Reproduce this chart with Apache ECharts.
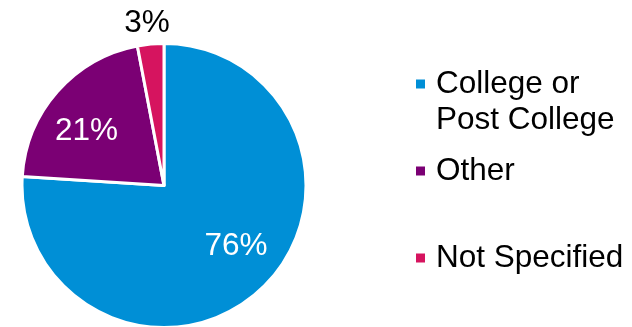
<!DOCTYPE html>
<html><head><meta charset="utf-8">
<script src="https://cdn.jsdelivr.net/npm/echarts@6/dist/echarts.min.js"></script>
<style>html,body{margin:0;padding:0;background:#fff}#c{width:632px;height:327px}</style>
</head><body><div id="c"></div>
<script>
const categories = ['College or\nPost College', 'Other', 'Not Specified'];
const values = [76, 21, 3];
const colors = ['#008FD6', '#7B0074', '#D6145F'];
const insideLabel = [true, true, false];

const FONT = '"Liberation Sans", Arial, sans-serif';
const chart = echarts.init(document.getElementById('c'));

const mainData = categories.map((n, i) => ({
  name: n, value: values[i],
  itemStyle: { color: colors[i] },
  label: { show: !insideLabel[i] }
}));
const labelData = categories.map((n, i) => ({
  name: n, value: values[i],
  label: { show: insideLabel[i] }
}));

const legendTops = [30, 153, 240];
const legends = categories.map((n, i) => ({
  data: [n],
  orient: 'vertical',
  left: 414,
  top: legendTops[i],
  padding: 0,
  itemWidth: 11,
  itemHeight: 11,
  icon: 'rect',
  selectedMode: false,
  formatter: name => (name.indexOf('\n') >= 0 ? '\n' + name : name),
  textStyle: {
    fontFamily: FONT, fontSize: 31.5, color: '#000', lineHeight: 36,
    padding: [0, 0, 0, 5]
  }
}));

chart.setOption({
  animation: false,
  legend: legends,
  series: [
    {
      type: 'pie',
      center: [164, 185.5],
      radius: [0, 142],
      startAngle: 90,
      clockwise: true,
      itemStyle: { borderColor: '#fff', borderWidth: 3 },
      label: {
        position: 'outside',
        formatter: '{c}%',
        fontFamily: FONT, fontSize: 31.5, color: '#000',
        distanceToLabelLine: -21
      },
      labelLine: { show: false, length: 21, length2: 0 },
      emphasis: { disabled: true },
      data: mainData
    },
    {
      type: 'pie',
      center: [164, 185.5],
      radius: [41, 142],
      startAngle: 96.5,
      clockwise: true,
      silent: true,
      itemStyle: { color: 'rgba(0,0,0,0)', borderWidth: 0 },
      label: {
        position: 'inside',
        formatter: '{c}%',
        fontFamily: FONT, fontSize: 31.5, color: '#fff'
      },
      labelLine: { show: false },
      emphasis: { disabled: true },
      data: labelData
    }
  ]
});
</script></body></html>
